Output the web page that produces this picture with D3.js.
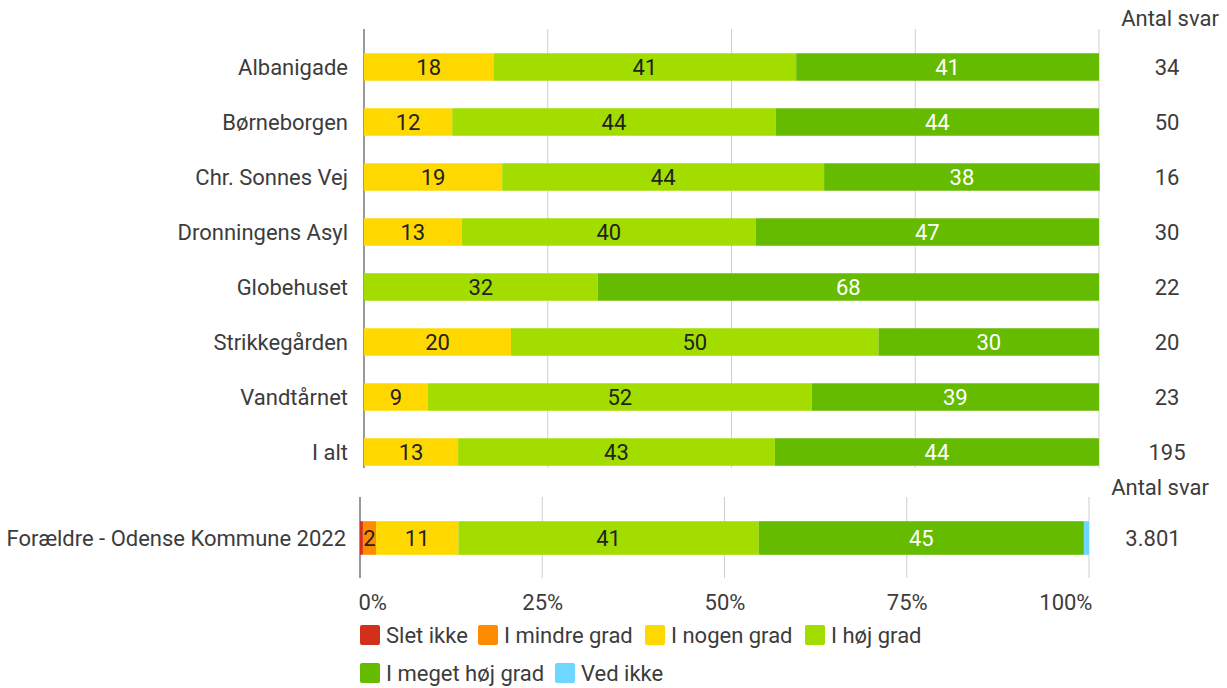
<!DOCTYPE html>
<html><head><meta charset="utf-8">
<script src="https://cdn.jsdelivr.net/npm/d3@7"></script>
<style>
body{margin:0;background:#fff;}
svg{display:block;font-family:Roboto, "Noto Sans", sans-serif;}
</style></head>
<body><svg id="c" width="1227" height="688"></svg>
<script>
const categories = ["Albanigade","Børneborgen","Chr. Sonnes Vej","Dronningens Asyl","Globehuset","Strikkegården","Vandtårnet","I alt"];
const series = ["Slet ikke","I mindre grad","I nogen grad","I høj grad","I meget høj grad","Ved ikke"];
const colors = ["#d3301a","#ff8c00","#ffd800","#a3dd00","#65bb00","#6fd6ff"];
const sletIkke      = [0,0,0,0,0,0,0,0];
const iMindreGrad   = [0,0,0,0,0,0,0,0];
const iNogenGrad    = [17.6,12,18.8,13.3,0,20,8.7,12.8];
const iHoejGrad     = [41.2,44,43.8,40,31.8,50,52.2,43.1];
const iMegetHoejGrad= [41.2,44,37.5,46.7,68.2,30,39.1,44.1];
const vedIkke       = [0,0,0,0,0,0,0,0];
const antalSvar     = ["34","50","16","30","22","20","23","195"];

const compCategory = ["Forældre - Odense Kommune 2022"];
const compValues   = [0.4,1.8,11.3,41.2,44.6,0.7];
const compAntal    = ["3.801"];

const tickValues = [0,25,50,75,100];
const antalTitle = "Antal svar";

const svg = d3.select("#c");
const FS = 22;
const txt = "#3c3c3c";

// ---------- top panel ----------
const xTop = d3.scaleLinear().domain([0,100]).range([364,1099]);
const yTop = d3.scaleBand().domain(categories).range([39.5,479.5]).paddingInner(0.5).paddingOuter(0.25);

const gTop = svg.append("g");
gTop.selectAll("line.grid").data(tickValues).join("line")
  .attr("x1",d=>xTop(d)).attr("x2",d=>xTop(d))
  .attr("y1",29).attr("y2",468)
  .attr("stroke",d=>d===0?"#9a9a9a":"#cfcfcf").attr("stroke-width",d=>d===0?2:1);

const topRows = categories.map((c,i)=>{
  const vals=[sletIkke[i],iMindreGrad[i],iNogenGrad[i],iHoejGrad[i],iMegetHoejGrad[i],vedIkke[i]];
  let acc=0;
  return vals.map((v,j)=>{const s={cat:c,j,v,x0:acc,x1:acc+v};acc+=v;return s;});
});

function drawBars(g, rows, x, y){
  rows.forEach(segs=>{
    g.selectAll(null).data(segs.filter(s=>s.v>0)).join("rect")
      .attr("x",s=>x(s.x0)).attr("width",s=>x(s.x1)-x(s.x0))
      .attr("y",s=>y(s.cat)).attr("height",y.bandwidth())
      .attr("fill",s=>colors[s.j]);
    g.selectAll(null).data(segs.filter(s=>s.v>=1.5)).join("text")
      .attr("x",s=>(x(s.x0)+x(s.x1))/2).attr("y",s=>y(s.cat)+y.bandwidth()/2)
      .attr("dy","0.36em").attr("text-anchor","middle")
      .attr("font-size",FS).attr("fill",s=>s.j===4?"#fff":"#222")
      .text(s=>Math.round(s.v));
  });
}
drawBars(gTop, topRows, xTop, yTop);

gTop.selectAll("text.cat").data(categories).join("text")
  .attr("x",348).attr("y",d=>yTop(d)+yTop.bandwidth()/2).attr("dy","0.36em")
  .attr("text-anchor","end").attr("font-size",FS).attr("fill",txt).text(d=>d);

gTop.append("text").attr("x",1170).attr("y",18).attr("dy","0.36em").attr("text-anchor","middle")
  .attr("font-size",FS).attr("fill",txt).text(antalTitle);
gTop.selectAll("text.n").data(categories).join("text")
  .attr("x",1167).attr("y",d=>yTop(d)+yTop.bandwidth()/2).attr("dy","0.36em")
  .attr("text-anchor","middle").attr("font-size",FS).attr("fill",txt).text((d,i)=>antalSvar[i]);

// ---------- bottom panel ----------
const xBot = d3.scaleLinear().domain([0,100]).range([360,1089]);
const yBot = d3.scaleBand().domain(compCategory).range([510,566]).padding(0.25);
const gBot = svg.append("g");
gBot.selectAll("line.grid").data(tickValues).join("line")
  .attr("x1",d=>xBot(d)).attr("x2",d=>xBot(d))
  .attr("y1",497).attr("y2",578)
  .attr("stroke",d=>d===0?"#9a9a9a":"#cfcfcf").attr("stroke-width",d=>d===0?2:1);

let acc=0;
const botRow = compValues.map((v,j)=>{const s={cat:compCategory[0],j,v,x0:acc,x1:acc+v};acc+=v;return s;});
drawBars(gBot,[botRow],xBot,yBot);

gBot.append("text").attr("x",346).attr("y",yBot(compCategory[0])+yBot.bandwidth()/2).attr("dy","0.36em")
  .attr("text-anchor","end").attr("font-size",FS).attr("fill",txt).text(compCategory[0]);
gBot.append("text").attr("x",1160).attr("y",487).attr("dy","0.36em").attr("text-anchor","middle")
  .attr("font-size",FS).attr("fill",txt).text(antalTitle);
gBot.append("text").attr("x",1153).attr("y",yBot(compCategory[0])+yBot.bandwidth()/2).attr("dy","0.36em")
  .attr("text-anchor","middle").attr("font-size",FS).attr("fill",txt).text(compAntal[0]);

const axis = d3.axisBottom(xBot).tickValues(tickValues).tickFormat(d=>d+"%").tickSize(0).tickPadding(0);
const ax = svg.append("g").attr("transform","translate(0,595)").call(axis);
ax.select(".domain").remove();
ax.selectAll("text").attr("font-size",FS).attr("fill",txt).attr("font-family","Roboto, sans-serif")
  .attr("dy","0.36em").attr("y",7)
  .attr("text-anchor",(d,i)=>i===0?"start":(i===tickValues.length-1?"end":"middle"))
  .attr("dx",(d,i)=>i===0?-2:(i===tickValues.length-1?3:0));

// ---------- legend ----------
const legendPos = [[360,635],[478,635],[645,635],[805,635],[360,673],[555,673]];
const lg = svg.append("g");
series.forEach((s,i)=>{
  const [lx,ly]=legendPos[i];
  lg.append("rect").attr("x",lx).attr("y",ly-10).attr("width",20).attr("height",20).attr("rx",2)
    .attr("fill",colors[i]);
  lg.append("text").attr("x",lx+26).attr("y",ly).attr("dy","0.36em").attr("font-size",FS)
    .attr("fill",txt).text(s);
});
</script></body></html>
